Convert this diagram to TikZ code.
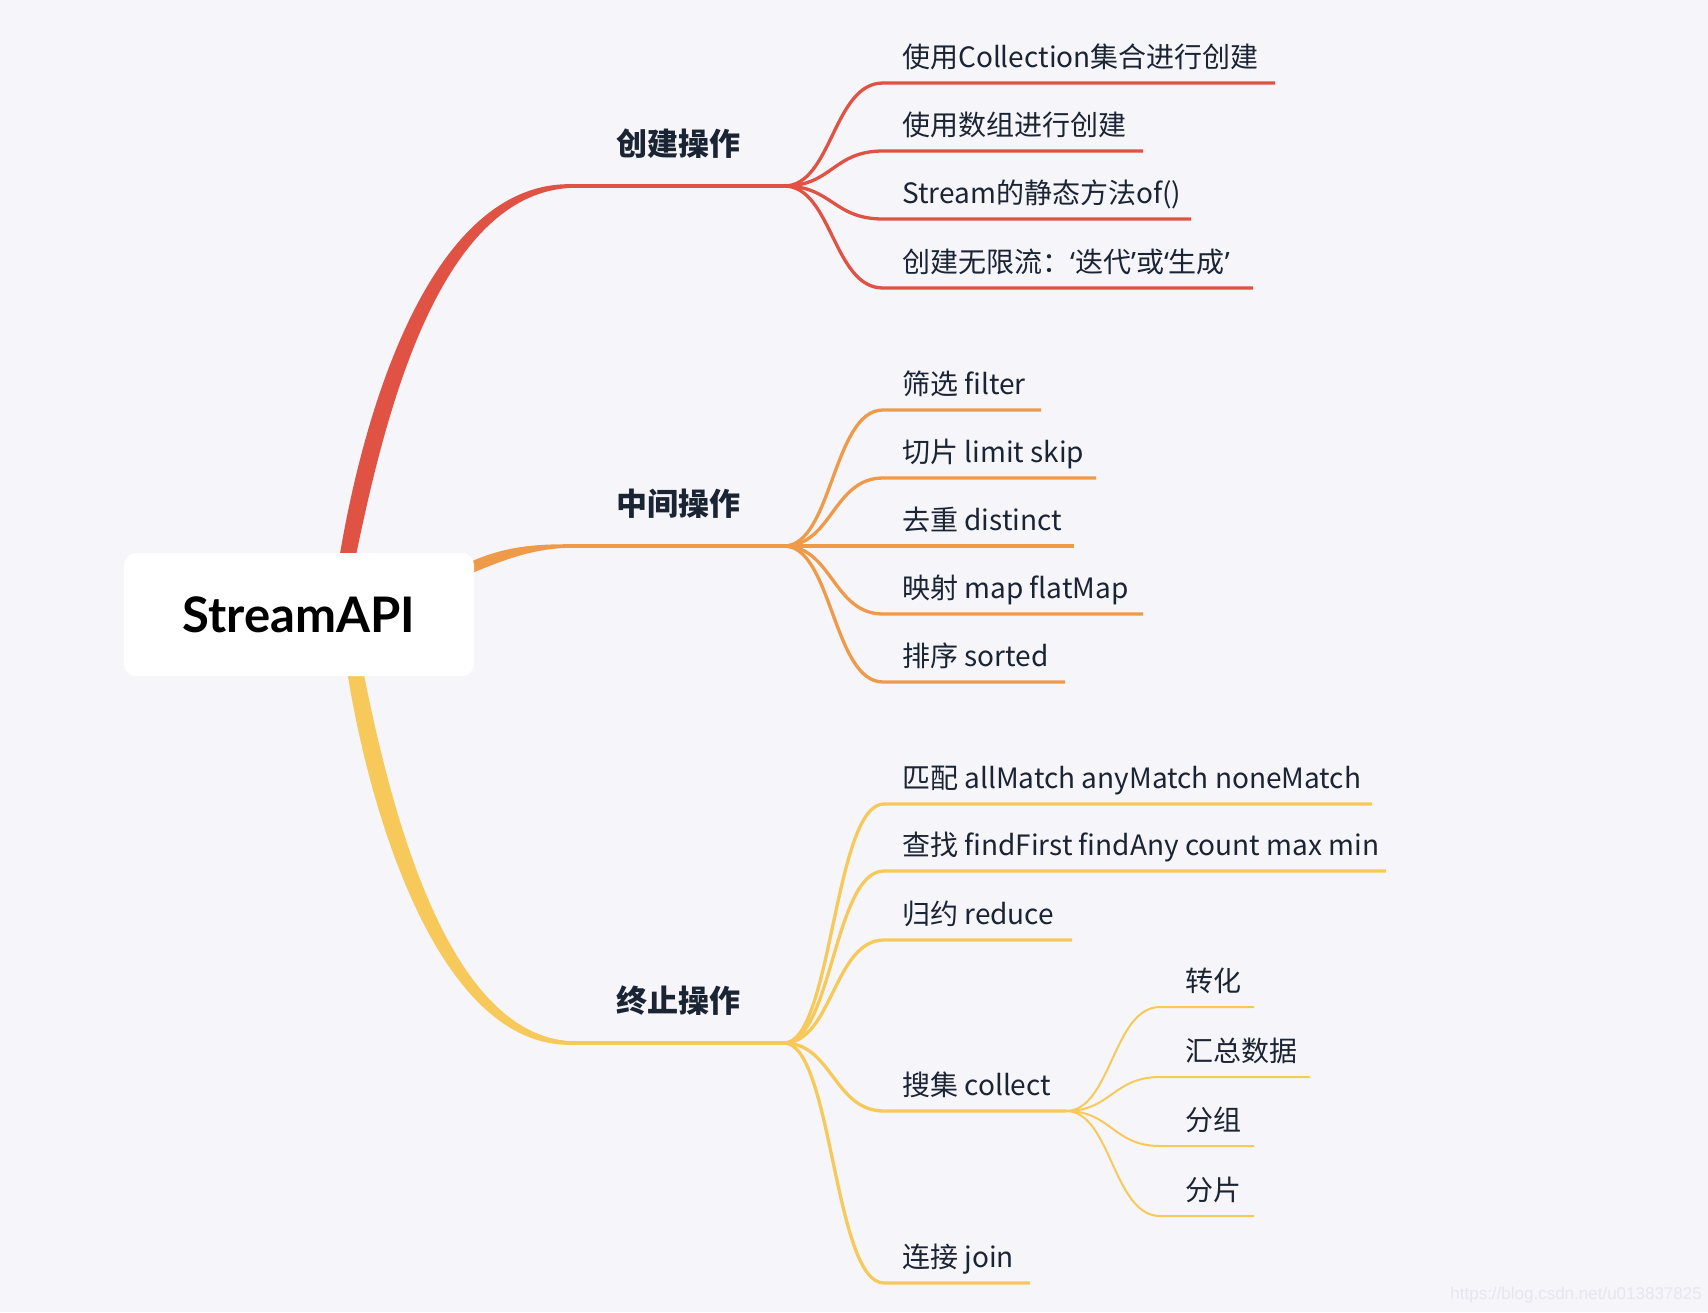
\documentclass[tikz,border=0pt]{standalone}
\usepackage{fontspec}
\setmainfont{Noto Sans CJK SC}
\newfontfamily\markfont{Liberation Sans}
\newfontfamily\quotefont{Noto Sans}
\newfontfamily\rootfont{Lato}
\newcommand{\openq}{{\quotefont ‘}}
\newcommand{\closeq}{{\quotefont ’}}
\usepackage{tikz}
\definecolor{mapbg}{HTML}{F5F5FA}
\definecolor{mapred}{HTML}{E05243}
\definecolor{maporange}{HTML}{EE9A48}
\definecolor{mapyellow}{HTML}{F7C95A}
\definecolor{mapink}{HTML}{1B2433}
\definecolor{mapmark}{HTML}{E6E6EC}
\tikzset{
  leaf/.style={anchor=base west, inner sep=0pt, font=\fontsize{28}{34}\selectfont},
  topic/.style={anchor=base, inner sep=0pt, font=\fontsize{31}{36}\selectfont\bfseries},
  hubline/.style={line width=4pt},
  leafline/.style={line width=3.3pt},
  subline/.style={line width=2pt},
}

\begin{document}
\begin{tikzpicture}[x=1pt, y=-1pt, every node/.style={text=mapink}]
  \fill[mapbg] (0,0) rectangle (1708,1312);
  \useasboundingbox (0,0) rectangle (1708,1312);

  % main branches, thick at the root
  \fill[mapred] (339,560) .. controls (360,430) and (425,180) .. (573,184.2)
    -- (573,187.8) .. controls (435,192) and (382,430) .. (355,560) -- cycle;
  \fill[maporange] (470,562) .. controls (508,545) and (540,544.2) .. (573,544.2)
    -- (573,547.8) .. controls (540,547.8) and (512,556) .. (470,574) -- cycle;
  \fill[mapyellow] (347,670) .. controls (367,800) and (435,1049) .. (573,1044.8)
    -- (573,1041.2) .. controls (445,1037) and (389,800) .. (363,670) -- cycle;

  \node[fill=white, rounded corners=12pt, minimum width=350pt, minimum height=123pt,
        inner sep=0pt, text=black, font=\rootfont\fontsize{49}{56}\selectfont\bfseries]
        (root) at (299,614.5) {StreamAPI};

  % topics
  \coordinate (createIn) at (573,186);   \coordinate (createFork) at (784,186);
  \coordinate (midIn) at (573,546);      \coordinate (midFork) at (784,546);
  \coordinate (endIn) at (573,1043);     \coordinate (endFork) at (784,1043);
  \draw[mapred, hubline] (createIn) -- (createFork);
  \draw[maporange, hubline] (midIn) -- (midFork);
  \draw[mapyellow, hubline] (endIn) -- (endFork);
  \node[topic] (create) at (678,155) {创建操作};
  \node[topic] (mid) at (678,515) {中间操作};
  \node[topic] (term) at (678,1012) {终止操作};

  % create leaves
  \coordinate (coll) at (883,83);   \coordinate (collEnd) at (1275,83);
  \coordinate (arr) at (883,151);   \coordinate (arrEnd) at (1143,151);
  \coordinate (of) at (883,219);    \coordinate (ofEnd) at (1191,219);
  \coordinate (inf) at (883,288);   \coordinate (infEnd) at (1253,288);
  \draw[mapred, leafline] (createFork) .. controls +(48,0) and +(-50,0) .. (coll) -- (collEnd);
  \draw[mapred, leafline] (createFork) .. controls +(48,0) and +(-50,0) .. (arr) -- (arrEnd);
  \draw[mapred, leafline] (createFork) .. controls +(48,0) and +(-50,0) .. (of) -- (ofEnd);
  \draw[mapred, leafline] (createFork) .. controls +(48,0) and +(-50,0) .. (inf) -- (infEnd);
  \node[leaf] (collText) at (902,67) {使用Collection集合进行创建};
  \node[leaf] (arrText) at (902,135) {使用数组进行创建};
  \node[leaf] (ofText) at (902,203) {Stream的静态方法of()};
  \node[leaf] (infText) at (902,272) {创建无限流：\openq 迭代\closeq 或\openq 生成\closeq};

  % intermediate leaves
  \coordinate (filt) at (883,410);  \coordinate (filtEnd) at (1041,410);
  \coordinate (slice) at (883,478); \coordinate (sliceEnd) at (1096,478);
  \coordinate (dist) at (883,546);  \coordinate (distEnd) at (1074,546);
  \coordinate (map) at (883,614);   \coordinate (mapEnd) at (1143,614);
  \coordinate (sort) at (883,682);  \coordinate (sortEnd) at (1065,682);
  \draw[maporange, leafline] (midFork) .. controls +(48,0) and +(-50,0) .. (filt) -- (filtEnd);
  \draw[maporange, leafline] (midFork) .. controls +(48,0) and +(-50,0) .. (slice) -- (sliceEnd);
  \draw[maporange, leafline] (midFork) -- (dist) -- (distEnd);
  \draw[maporange, leafline] (midFork) .. controls +(48,0) and +(-50,0) .. (map) -- (mapEnd);
  \draw[maporange, leafline] (midFork) .. controls +(48,0) and +(-50,0) .. (sort) -- (sortEnd);
  \node[leaf] (filtText) at (902,394) {筛选 filter};
  \node[leaf] (sliceText) at (902,462) {切片 limit skip};
  \node[leaf] (distText) at (902,530) {去重 distinct};
  \node[leaf] (mapText) at (902,598) {映射 map flatMap};
  \node[leaf] (sortText) at (902,666) {排序 sorted};

  % terminal leaves
  \coordinate (match) at (884,804);   \coordinate (matchEnd) at (1372,804);
  \coordinate (find) at (884,871);    \coordinate (findEnd) at (1386,871);
  \coordinate (reduce) at (884,940);  \coordinate (reduceEnd) at (1072,940);
  \coordinate (collect) at (884,1111); \coordinate (collectFork) at (1066,1111);
  \coordinate (join) at (884,1283);   \coordinate (joinEnd) at (1030,1283);
  \draw[mapyellow, leafline] (endFork) .. controls +(48,0) and +(-50,0) .. (match) -- (matchEnd);
  \draw[mapyellow, leafline] (endFork) .. controls +(48,0) and +(-50,0) .. (find) -- (findEnd);
  \draw[mapyellow, leafline] (endFork) .. controls +(48,0) and +(-50,0) .. (reduce) -- (reduceEnd);
  \draw[mapyellow, leafline] (endFork) .. controls +(48,0) and +(-50,0) .. (collect) -- (collectFork);
  \draw[mapyellow, leafline] (endFork) .. controls +(48,0) and +(-50,0) .. (join) -- (joinEnd);
  \node[leaf] (matchText) at (902,788) {匹配 allMatch anyMatch noneMatch};
  \node[leaf] (findText) at (902,855) {查找 findFirst findAny count max min};
  \node[leaf] (reduceText) at (902,924) {归约 reduce};
  \node[leaf] (collectText) at (902,1095) {搜集 collect};
  \node[leaf] (joinText) at (902,1267) {连接 join};

  % collect sub-leaves
  \coordinate (conv) at (1160,1007);  \coordinate (convEnd) at (1254,1007);
  \coordinate (summ) at (1160,1077);  \coordinate (summEnd) at (1310,1077);
  \coordinate (group) at (1160,1146); \coordinate (groupEnd) at (1254,1146);
  \coordinate (part) at (1160,1216);  \coordinate (partEnd) at (1254,1216);
  \draw[mapyellow, subline] (collectFork) .. controls +(45,0) and +(-47,0) .. (conv) -- (convEnd);
  \draw[mapyellow, subline] (collectFork) .. controls +(45,0) and +(-47,0) .. (summ) -- (summEnd);
  \draw[mapyellow, subline] (collectFork) .. controls +(45,0) and +(-47,0) .. (group) -- (groupEnd);
  \draw[mapyellow, subline] (collectFork) .. controls +(45,0) and +(-47,0) .. (part) -- (partEnd);
  \node[leaf] (convText) at (1185,991) {转化};
  \node[leaf] (summText) at (1185,1061) {汇总数据};
  \node[leaf] (groupText) at (1185,1130) {分组};
  \node[leaf] (partText) at (1185,1200) {分片};

  \node[anchor=base east, inner sep=0pt, text=mapmark, font=\markfont\fontsize{17}{20}\selectfont]
        (mark) at (1702,1299) {https://blog.csdn.net/u013837825};
\end{tikzpicture}
\end{document}
